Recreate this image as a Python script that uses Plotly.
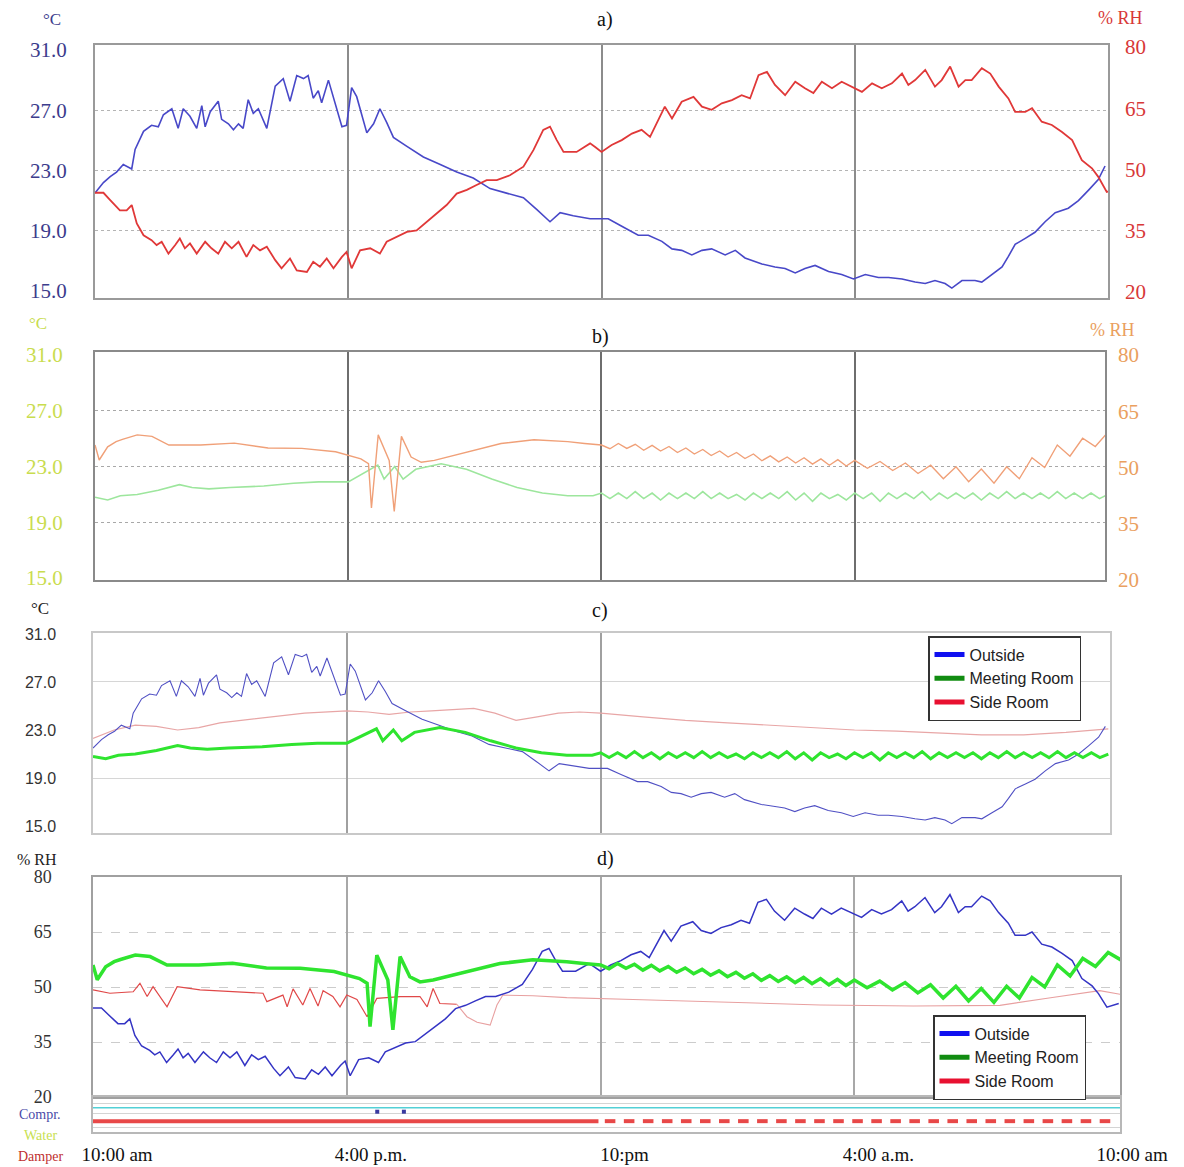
import plotly.graph_objects as go

W, H = 1184, 1167
PAGE_OFFSET = 8  # browser default body margin

# ---------------- data ----------------
HOUR_TICKS = [0, 6, 12, 18, 24]
TIME_LABELS = ["10:00 am", "4:00 p.m.", "10:pm", "4:00 a.m.", "10:00 am"]
T_TICKS = [15, 19, 23, 27, 31]
RH_TICKS = [20, 35, 50, 65, 80]

# Outside temperature (deg C), hours after 10:00 am
T_OUT_H = [0, 0.2, 0.36, 0.51, 0.67, 0.87, 0.95, 1.15, 1.34, 1.5,
           1.62, 1.82, 1.97, 2.09, 2.25, 2.41, 2.53, 2.61, 2.73, 2.92,
           3.0, 3.16, 3.28, 3.4, 3.51, 3.63, 3.75, 3.87, 4.07, 4.27,
           4.46, 4.62, 4.78, 4.94, 5.05, 5.17, 5.29, 5.37, 5.53, 5.65,
           5.85, 5.96, 6.08, 6.2, 6.44, 6.6, 6.75, 6.91, 7.07, 7.39,
           7.78, 8.18, 8.57, 8.96, 9.36, 9.75, 10.15, 10.47, 10.78, 11.02,
           11.33, 11.73, 11.97, 12.16, 12.48, 12.87, 13.11, 13.43, 13.67, 13.9,
           14.14, 14.38, 14.61, 14.93, 15.17, 15.4, 15.8, 16.11, 16.35, 16.59,
           16.82, 17.06, 17.38, 17.69, 17.97, 18.25, 18.56, 18.8, 19.12, 19.43,
           19.67, 19.9, 20.14, 20.3, 20.54, 20.85, 21.01, 21.25, 21.49, 21.64,
           21.8, 22.04, 22.27, 22.51, 22.75, 23.06, 23.3, 23.54, 23.77, 23.93]
T_OUT = [21.5, 22.2, 22.6, 22.9, 23.4, 23.1, 24.4, 25.6, 26.0, 25.9,
         26.7, 27.1, 25.8, 27.1, 26.6, 25.8, 27.3, 25.9, 26.9, 27.6,
         26.4, 26.1, 25.7, 26.1, 25.8, 27.7, 26.8, 27.1, 25.8, 28.6,
         29.1, 27.6, 29.3, 29.1, 29.3, 27.8, 28.3, 27.5, 29.0, 27.8,
         25.9, 26.0, 28.5, 27.9, 25.5, 26.1, 27.1, 26.2, 25.2, 24.6,
         23.9, 23.4, 22.9, 22.5, 21.8, 21.5, 21.2, 20.4, 19.6, 20.2,
         20.0, 19.8, 19.8, 19.8, 19.3, 18.7, 18.7, 18.3, 17.8, 17.7,
         17.4, 17.7, 17.8, 17.4, 17.7, 17.2, 16.8, 16.6, 16.5, 16.2,
         16.5, 16.7, 16.3, 16.1, 15.8, 16.1, 15.9, 15.9, 15.8, 15.6,
         15.5, 15.7, 15.5, 15.2, 15.7, 15.7, 15.6, 16.1, 16.6, 17.3,
         18.1, 18.5, 18.9, 19.6, 20.2, 20.5, 21.0, 21.7, 22.4, 23.3]

# Outside relative humidity (%)
RH_OUT_H = [0, 0.2, 0.36, 0.59, 0.75, 0.87, 0.99, 1.15, 1.34, 1.46,
            1.58, 1.74, 1.9, 2.01, 2.13, 2.25, 2.41, 2.61, 2.76, 2.92,
            3.08, 3.24, 3.4, 3.59, 3.75, 3.91, 4.07, 4.27, 4.42, 4.62,
            4.78, 5.02, 5.17, 5.33, 5.49, 5.65, 5.85, 5.96, 6.08, 6.28,
            6.52, 6.75, 6.91, 7.15, 7.39, 7.62, 7.86, 8.1, 8.33, 8.57,
            8.81, 9.04, 9.28, 9.52, 9.83, 10.15, 10.39, 10.62, 10.78, 10.94,
            11.1, 11.41, 11.73, 11.85, 12.0, 12.24, 12.48, 12.72, 12.95, 13.15,
            13.35, 13.5, 13.67, 13.9, 14.18, 14.38, 14.61, 14.85, 15.09, 15.32,
            15.52, 15.72, 15.92, 16.11, 16.35, 16.59, 16.82, 17.02, 17.22, 17.46,
            17.69, 17.93, 18.17, 18.41, 18.64, 18.88, 19.12, 19.27, 19.43, 19.67,
            19.9, 20.06, 20.26, 20.46, 20.62, 20.77, 21.01, 21.21, 21.41, 21.64,
            21.8, 22.04, 22.2, 22.43, 22.67, 22.91, 23.15, 23.38, 23.62, 23.77,
            23.97, 24.25]
RH_OUT = [44.3, 44.3, 42.5, 40.0, 40.0, 41.3, 36.8, 33.9, 32.7, 31.5,
          32.3, 29.4, 31.5, 33.1, 30.7, 31.9, 29.4, 32.3, 30.7, 29.4,
          32.3, 30.7, 32.3, 28.6, 31.5, 30.2, 31.1, 27.8, 25.8, 28.2,
          25.3, 24.9, 27.4, 26.2, 28.2, 25.8, 28.6, 29.8, 25.8, 30.2,
          30.7, 29.4, 32.3, 33.5, 34.7, 35.1, 37.2, 39.2, 41.3, 44.1,
          45.0, 46.2, 47.4, 47.4, 48.6, 50.7, 54.8, 59.7, 60.5, 57.2,
          54.3, 54.3, 56.4, 55.5, 54.3, 56.0, 57.2, 58.8, 59.7, 58.0,
          62.1, 65.4, 62.5, 66.6, 67.8, 65.4, 64.6, 66.2, 67.0, 68.2,
          67.4, 73.1, 73.9, 70.7, 68.2, 71.5, 69.9, 68.7, 71.5, 69.9,
          71.5, 70.3, 69.0, 71.1, 69.9, 71.1, 73.5, 70.7, 71.9, 74.4,
          70.3, 71.9, 75.2, 70.3, 71.9, 71.9, 74.8, 73.5, 70.3, 67.4,
          64.1, 64.1, 65.0, 61.7, 60.9, 59.2, 57.2, 52.3, 50.3, 48.2,
          44.5, 45.5]

# Meeting room temperature (deg C)
T_MEET_H = [0, 0.3, 0.6, 1.0, 1.5, 2.0, 2.3, 2.7, 3.2, 4.0,
            4.7, 5.3, 6.0, 6.4, 6.7, 6.85, 7.1, 7.3, 7.6, 8.2,
            8.8, 9.4, 10.0, 10.6, 11.2, 11.8,
            12.0, 12.2, 12.4, 12.6, 12.8, 13.0, 13.2, 13.4, 13.6, 13.8,
            14.0, 14.2, 14.4, 14.6, 14.8, 15.0, 15.2, 15.4, 15.6, 15.8,
            16.0, 16.2, 16.4, 16.6, 16.8, 17.0, 17.2, 17.4, 17.6, 17.8,
            18.0, 18.2, 18.4, 18.6, 18.8, 19.0, 19.2, 19.4, 19.6, 19.8,
            20.0, 20.2, 20.4, 20.6, 20.8, 21.0, 21.2, 21.4, 21.6, 21.8,
            22.0, 22.2, 22.4, 22.6, 22.8, 23.0, 23.2, 23.4, 23.6, 23.8,
            24.0]
T_MEET = [20.8, 20.6, 20.9, 21.0, 21.3, 21.7, 21.5, 21.4, 21.5, 21.6,
          21.8, 21.9, 21.9, 22.6, 23.1, 22.1, 23.0, 22.1, 22.8, 23.2,
          22.8, 22.1, 21.5, 21.1, 20.9, 20.9,
          21.1, 20.7, 21.1, 20.7, 21.2, 20.7, 21.1, 20.6, 21.1, 20.7,
          21.1, 20.7, 21.2, 20.7, 21.1, 20.7, 21.0, 20.6, 21.1, 20.7,
          21.1, 20.7, 21.2, 20.6, 21.1, 20.5, 21.1, 20.7, 21.0, 20.6,
          21.1, 20.7, 21.1, 20.5, 21.1, 20.7, 21.1, 20.7, 21.2, 20.6,
          21.1, 20.7, 21.1, 20.7, 21.1, 20.6, 21.1, 20.7, 21.2, 20.7,
          21.1, 20.7, 21.1, 20.7, 21.2, 20.7, 21.1, 20.7, 21.1, 20.7,
          21.0]

# Meeting room relative humidity (%)
RH_MEET_H = [0, 0.1, 0.3, 0.5, 0.65, 1.0, 1.35, 1.75, 2.5, 3.3,
             4.1, 4.9, 5.7, 6.0, 6.3, 6.48, 6.55, 6.71, 6.97, 7.09,
             7.26, 7.49, 7.73, 8.04, 8.84, 9.62, 10.4, 11.2, 11.6,
             12.0, 12.2, 12.4, 12.6, 12.8, 13.0, 13.2, 13.4, 13.6, 13.8,
             14.0, 14.2, 14.4, 14.6, 14.8, 15.0, 15.2, 15.4, 15.6, 15.8,
             16.0, 16.2, 16.4, 16.6, 16.8, 17.0, 17.2, 17.4, 17.6, 17.8,
             18.0,
             18.3, 18.6, 18.9, 19.2, 19.5, 19.8, 20.1, 20.4, 20.7, 21.0,
             21.3, 21.6, 21.9, 22.2, 22.5, 22.8, 23.1, 23.4, 23.7, 24.0,
             24.3]
RH_MEET = [56.0, 52.0, 55.5, 56.9, 57.5, 58.7, 58.3, 56.0, 56.0, 56.5,
           55.2, 55.1, 54.2, 53.3, 52.3, 51.0, 39.2, 58.7, 51.9, 38.3,
           58.3, 52.8, 51.4, 51.9, 54.1, 56.4, 57.4, 56.9, 56.4,
           56.0, 55.0, 56.4, 55.1, 56.2, 54.6, 55.9, 54.4, 55.6, 54.0,
           55.2, 53.6, 54.8, 53.2, 54.4, 52.8, 54.0, 52.4, 53.6, 51.8,
           53.1, 51.5, 52.8, 51.2, 52.6, 50.9, 52.3, 50.6, 52.1, 50.4,
           51.9,
           49.8, 51.6, 49.2, 51.2, 48.4, 50.6, 47.0, 50.2, 46.2, 49.6,
           45.8, 50.2, 47.0, 52.6, 50.0, 56.0, 53.0, 57.8, 55.6, 59.4,
           57.4]

# Side room temperature (deg C)
T_SIDE_H = [0, 0.5, 1.0, 1.5, 2.0, 2.5, 3.0, 4.0, 5.0, 6.0,
            6.5, 7.0, 7.5, 8.0, 8.5, 9.0, 9.5, 10.0, 10.5, 11.0,
            11.5, 12, 13, 14, 15, 16, 17, 18, 19, 20,
            21, 22, 23, 24]
T_SIDE = [22.3, 23.0, 23.4, 23.3, 23.0, 23.2, 23.6, 24.0, 24.4, 24.6,
          24.5, 24.3, 24.5, 24.6, 24.7, 24.8, 24.4, 23.8, 24.1, 24.4,
          24.5, 24.4, 24.1, 23.8, 23.6, 23.4, 23.2, 23.0, 22.9, 22.75,
          22.6, 22.6, 22.8, 23.1]

# Side room relative humidity (%)
RH_SIDE_H = [0, 0.4, 0.95, 1.11, 1.28, 1.42, 1.75, 1.99, 2.53, 3.31,
             4.02, 4.11, 4.49, 4.59, 4.73, 4.96, 5.13, 5.32, 5.44, 5.67,
             5.84, 6.0, 6.24, 6.48, 6.71, 7.26, 7.73, 7.9, 8.04, 8.2,
             8.6, 8.84, 9.08, 9.39, 9.55, 9.69, 10.4, 11.2, 12.77, 14.35,
             15.93, 17.19, 19.4, 21.44, 22.6, 23.8, 24.28]
RH_SIDE = [49.2, 48.3, 48.7, 51.0, 47.4, 50.1, 44.6, 50.1, 49.2, 48.7,
           48.3, 46.0, 47.8, 44.6, 49.5, 45.1, 49.6, 44.8, 49.0, 47.4,
           44.6, 47.8, 46.6, 41.9, 46.9, 47.4, 47.4, 44.6, 49.6, 45.5,
           45.3, 41.9, 40.4, 39.6, 45.1, 47.8, 47.6, 47.1, 46.6, 46.0,
           45.5, 45.1, 44.8, 45.0, 47.0, 49.0, 48.0]

# Equipment status strip
WATER_START = [0.0]
WATER_END = [24.28]
COMPR_EVENTS = [6.72, 7.35]
DAMPER_START = [0.0, 12.1, 12.55, 13.0, 13.45, 13.9, 14.35, 14.8, 15.25, 15.7,
                16.15, 16.6, 17.05, 17.5, 17.95, 18.4, 18.85, 19.3, 19.75, 20.2,
                20.65, 21.1, 21.55, 22.0, 22.45, 22.9, 23.35, 23.8]
DAMPER_END = [11.95, 12.35, 12.8, 13.25, 13.7, 14.15, 14.6, 15.05, 15.5, 15.95,
              16.4, 16.85, 17.3, 17.75, 18.2, 18.65, 19.1, 19.55, 20.0, 20.45,
              20.9, 21.35, 21.8, 22.25, 22.7, 23.15, 23.6, 24.05]

# ---------------- helpers ----------------
SERIF = "Liberation Serif"
SANS = "Liberation Sans"


def fx(px):
    return (px - PAGE_OFFSET) / W


def fy(py):
    return 1 - (py - PAGE_OFFSET) / H


def dom_x(a, b):
    return [fx(a), fx(b)]


def dom_y(top, bottom):
    return [fy(bottom), fy(top)]


def segments(starts, ends, level):
    xs, ys = [], []
    for s, e in zip(starts, ends):
        xs += [s, e, None]
        ys += [level, level, None]
    return xs, ys


fig = go.Figure()


def line(x, y, xa, ya, color, width, dash="solid"):
    fig.add_trace(go.Scatter(x=x, y=y, xaxis=xa, yaxis=ya, mode="lines",
                             line=dict(color=color, width=width, dash=dash),
                             showlegend=False, hoverinfo="skip"))


# Panel a
line(T_OUT_H, T_OUT, "x", "y", "#4848c8", 1.6)
line(RH_OUT_H, RH_OUT, "x", "y2", "#e03838", 1.8)

# Panel b
line(T_MEET_H, T_MEET, "x2", "y3", "#9de69d", 1.6)
line(RH_MEET_H, RH_MEET, "x2", "y4", "#f0a078", 1.4)

# Panel c
line(T_SIDE_H, T_SIDE, "x3", "y5", "#e8a6a6", 1.2)
line(T_OUT_H, T_OUT, "x3", "y5", "#5050c4", 1.1)
line(T_MEET_H, T_MEET, "x3", "y5", "#2fe42f", 3.0)

# Panel d
split = 8.6
line([h for h in RH_SIDE_H if h <= split], [v for h, v in zip(RH_SIDE_H, RH_SIDE) if h <= split],
     "x4", "y6", "#e04848", 1.2)
line([h for h in RH_SIDE_H if h >= split], [v for h, v in zip(RH_SIDE_H, RH_SIDE) if h >= split],
     "x4", "y6", "#e8a0a0", 1.1)
line(RH_OUT_H, RH_OUT, "x4", "y6", "#3434c4", 1.5)
line(RH_MEET_H, RH_MEET, "x4", "y6", "#2fe42f", 3.5)

# Legend entries (panel c and d)
LEG_NAMES = ["Outside", "Meeting Room", "Side Room"]
LEG_COLORS = ["#1010f0", "#118c11", "#e81030"]
for lg, xa, ya in (("legend", "x3", "y5"), ("legend2", "x4", "y6")):
    for nm, col in zip(LEG_NAMES, LEG_COLORS):
        fig.add_trace(go.Scatter(x=[None], y=[None], xaxis=xa, yaxis=ya, mode="lines",
                                 line=dict(color=col, width=5), name=nm,
                                 legend=lg, showlegend=True))

# Status strip
wx, wy = segments(WATER_START, WATER_END, 0.69)
fig.add_trace(go.Scatter(x=wx, y=wy, xaxis="x5", yaxis="y7", mode="lines",
                         line=dict(color="#52d0d6", width=1.5), showlegend=False, hoverinfo="skip"))
fig.add_trace(go.Scatter(x=COMPR_EVENTS, y=[0.58] * len(COMPR_EVENTS), xaxis="x5", yaxis="y7",
                         mode="markers", marker=dict(symbol="square", size=4, color="#3a3aa0"),
                         showlegend=False, hoverinfo="skip"))
dx, dy = segments(DAMPER_START, DAMPER_END, 0.31)
fig.add_trace(go.Scatter(x=dx, y=dy, xaxis="x5", yaxis="y7", mode="lines",
                         line=dict(color="#e84848", width=4), showlegend=False, hoverinfo="skip"))

# ---------------- axes ----------------
def frame(color, width=2):
    return dict(showline=True, mirror=True, linecolor=color, linewidth=width,
                zeroline=False, automargin=False)


def xgrid(vals, color, width=1.5):
    return dict(tickvals=vals, showticklabels=False, ticks="", showgrid=True,
                gridcolor=color, gridwidth=width)


def hminor(vals, color, dash):
    return dict(tickmode="array", tickvals=vals, showgrid=True, gridcolor=color,
                griddash=dash, gridwidth=1, ticks="")


layout = dict(
    width=W, height=H, margin=dict(l=0, r=0, t=0, b=0, autoexpand=False),
    paper_bgcolor="white", plot_bgcolor="white",
    # panel a
    xaxis=dict(domain=dom_x(95, 1108), range=[0, 24], anchor="y",
               **xgrid([6, 12, 18], "#8c8c8c"), **frame("#9a9a9a")),
    yaxis=dict(domain=dom_y(45, 298), range=[14.54, 31.33], anchor="x",
               tickvals=T_TICKS, tickformat=".1f", ticks="", showgrid=False,
               tickfont=dict(family=SERIF, size=21, color="#3c3c8c"), ticklabelstandoff=22,
               minor=hminor([19, 23, 27], "#b4b4b4", "dot"), **frame("#9a9a9a")),
    yaxis2=dict(overlaying="y", side="right", anchor="x", range=[18.53, 80.49],
                tickvals=RH_TICKS, ticks="", showgrid=False, zeroline=False, showline=False,
                automargin=False,
                tickfont=dict(family=SERIF, size=21, color="#d83838"), ticklabelstandoff=16),
    # panel b
    xaxis2=dict(domain=dom_x(95, 1105), range=[0, 23.93], anchor="y3",
                **xgrid([6, 12, 18], "#6e6e6e"), **frame("#8a8a8a")),
    yaxis3=dict(domain=dom_y(352, 580), range=[14.86, 31.22], anchor="x2",
                tickvals=T_TICKS, tickformat=".1f", ticks="", showgrid=False,
                tickfont=dict(family=SERIF, size=21, color="#c9dc4e"), ticklabelstandoff=26,
                minor=hminor([19, 23, 27], "#a8a8a8", "dot"), **frame("#8a8a8a")),
    yaxis4=dict(overlaying="y3", side="right", anchor="x2", range=[20.0, 80.8],
                tickvals=RH_TICKS, ticks="", showgrid=False, zeroline=False, showline=False,
                automargin=False,
                tickfont=dict(family=SERIF, size=21, color="#eaa060"), ticklabelstandoff=12),
    # panel c
    xaxis3=dict(domain=dom_x(93, 1110), range=[0, 24.04], anchor="y5",
                **xgrid([6, 12], "#a0a0a0"), **frame("#c8c8c8", 1.5)),
    yaxis5=dict(domain=dom_y(633, 833), range=[14.42, 31.08], anchor="x3",
                tickvals=T_TICKS, tickformat=".1f", ticks="", showgrid=False,
                tickfont=dict(family=SANS, size=16, color="#333333"), ticklabelstandoff=32,
                minor=hminor([19, 27], "#d6d6d6", "solid"), **frame("#c8c8c8", 1.5)),
    # panel d
    xaxis4=dict(domain=dom_x(93, 1120), range=[0, 24.28], anchor="y6",
                **xgrid([6, 12, 18], "#a8a8a8"), **frame("#a0a0a0", 1.5)),
    yaxis6=dict(domain=dom_y(877, 1097), range=[20, 80], anchor="x4",
                tickvals=RH_TICKS, ticks="", showgrid=False,
                tickfont=dict(family=SERIF, size=18, color="#333333"), ticklabelstandoff=36,
                minor=hminor([35, 50, 65], "#cccccc", "dash"), **frame("#a0a0a0", 1.5)),
    # status strip
    xaxis5=dict(domain=dom_x(93, 1120), range=[0, 24.28], anchor="y7",
                tickvals=HOUR_TICKS, ticktext=TIME_LABELS, ticks="", showgrid=False,
                tickfont=dict(family=SERIF, size=19, color="#111111"),
                ticklabelshift=24, ticklabelstandoff=4, **frame("#b8b8b8", 1.5)),
    yaxis7=dict(domain=dom_y(1097, 1132), range=[0, 1], anchor="x5",
                tickvals=[0.12, 0.52, 0.82], showticklabels=False, ticks="",
                showgrid=True, gridcolor="#d4d4d4", gridwidth=1, **frame("#b8b8b8", 1.5)),
    legend=dict(x=fx(928), y=fy(636), xanchor="left", yanchor="top",
                bgcolor="white", bordercolor="#333333", borderwidth=1.5,
                font=dict(family=SANS, size=16, color="#222222"), tracegroupgap=0),
    legend2=dict(x=fx(933), y=fy(1015), xanchor="left", yanchor="top",
                 bgcolor="white", bordercolor="#333333", borderwidth=1.5,
                 font=dict(family=SANS, size=16, color="#222222"), tracegroupgap=0),
)
fig.update_layout(**layout)


def ann(text, px, py, color="#111111", size=20, family=SERIF):
    fig.add_annotation(text=text, x=fx(px), y=fy(py), xref="paper", yref="paper",
                       showarrow=False, xanchor="center", yanchor="middle",
                       font=dict(family=family, size=size, color=color))


ann("a)", 605, 20)
ann("b)", 600, 336)
ann("c)", 600, 610)
ann("d)", 605, 858)
ann("°C", 52, 20, "#3c3c8c", 17)
ann("% RH", 1120, 18, "#d83838", 18)
ann("°C", 38, 323, "#c9dc4e", 17)
ann("% RH", 1112, 330, "#eaa060", 18)
ann("°C", 40, 608, "#222222", 17)
ann("% RH", 37, 859, "#222222", 16)
ann("Compr.", 40, 1114, "#4a4aa8", 14)
ann("Water", 40, 1135, "#c8e050", 14)
ann("Damper", 40, 1156, "#c03030", 14)

fig.write_html("out.html")
